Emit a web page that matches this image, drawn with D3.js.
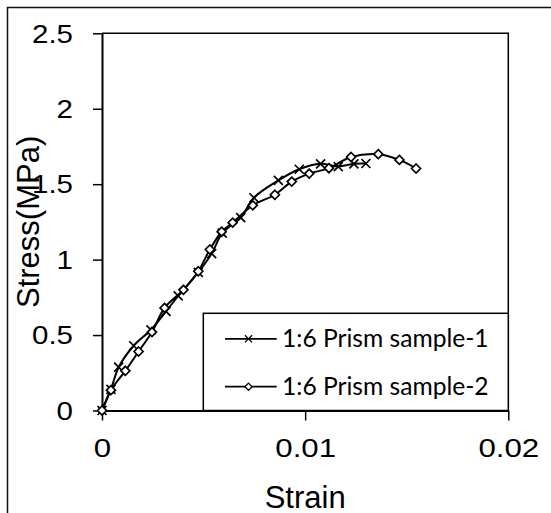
<!DOCTYPE html>
<html lang="en">
<head>
    <meta charset="UTF-8">
    <title>Stress-Strain</title>
    <script src="https://d3js.org/d3.v7.min.js"></script>
    <style>
        body { margin: 0; background: #fff; }
    </style>
</head>
<body>
    <svg id="chart" width="551" height="513"></svg>

    <script>
        // data
        const strain1 = [0, 0.00044, 0.00082, 0.00156, 0.00241, 0.00315, 0.00375, 0.00474, 0.0054, 0.00592, 0.00683, 0.00748, 0.00868, 0.00971, 0.01076, 0.01163, 0.0124, 0.01299];
        const stress1 = [0, 0.14, 0.287, 0.429, 0.535, 0.657, 0.76, 0.915, 1.04, 1.175, 1.278, 1.41, 1.525, 1.599, 1.635, 1.617, 1.635, 1.637];
        const strain2 = [0, 0.00044, 0.00115, 0.0018, 0.00246, 0.00308, 0.00401, 0.00474, 0.00531, 0.00589, 0.00643, 0.00742, 0.00851, 0.00934, 0.0102, 0.01117, 0.01226, 0.0136, 0.01464, 0.01546];
        const stress2 = [0, 0.135, 0.263, 0.391, 0.52, 0.68, 0.80, 0.923, 1.067, 1.185, 1.245, 1.36, 1.43, 1.517, 1.57, 1.606, 1.68, 1.699, 1.661, 1.604];
        const seriesNames = ["1:6 Prism sample-1", "1:6 Prism sample-2"];
        const xTicks = [0, 0.01, 0.02];
        const yTicks = [0, 0.5, 1, 1.5, 2, 2.5];

        const pL = 102, pR = 508.3, pT = 33.3, pB = 410.5;
        const svg = d3.select("#chart");

        // outer frame
        svg.append("rect")
           .attr("x", 7.5).attr("y", 7.5)
           .attr("width", 600).attr("height", 600)
           .attr("fill", "none").attr("stroke", "#111").attr("stroke-width", 1.5);

        const x = d3.scaleLinear().domain([0, 0.02]).range([pL, pR]);
        const y = d3.scaleLinear().domain([0, 2.5]).range([pB, pT]);

        // plot box (top + right)
        svg.append("path")
           .attr("d", `M${pL},${pT}H${pR}V${pB}`)
           .attr("fill", "none").attr("stroke", "#000").attr("stroke-width", 1.5);

        const xAxis = svg.append("g")
           .attr("transform", `translate(0,${pB})`)
           .call(d3.axisBottom(x).tickValues(xTicks).tickFormat(d3.format("")).tickSize(10).tickSizeOuter(0));
        const yAxis = svg.append("g")
           .attr("transform", `translate(${pL},0)`)
           .call(d3.axisLeft(y).tickValues(yTicks).tickFormat(d3.format("")).tickSize(9).tickSizeOuter(0));

        [xAxis, yAxis].forEach(g => {
            g.select(".domain").attr("stroke", "#000").attr("stroke-width", 2);
            g.selectAll(".tick line").attr("stroke", "#000").attr("stroke-width", 1.5);
            g.selectAll(".tick text")
             .attr("font-family", "Liberation Sans, Arial, sans-serif")
             .attr("font-size", 25).attr("fill", "#000");
        });
        // the original labels are drawn a little wide
        xAxis.selectAll(".tick text")
             .attr("x", 0).attr("y", 0).attr("dy", 0)
             .attr("transform", "translate(0,46) scale(1.25,1)");
        yAxis.selectAll(".tick text")
             .attr("x", 0).attr("dy", "0.35em")
             .attr("transform", "translate(-29,0) scale(1.18,1)");

        svg.append("text")
           .attr("x", (pL + pR) / 2).attr("y", 508)
           .attr("text-anchor", "middle")
           .attr("font-family", "Liberation Sans, Arial, sans-serif")
           .attr("font-size", 31).text("Strain");
        svg.append("text")
           .attr("transform", `translate(39,${(pT + pB) / 2}) rotate(-90)`)
           .attr("text-anchor", "middle")
           .attr("font-family", "Liberation Sans, Arial, sans-serif")
           .attr("font-size", 31).text("Stress(MPa)");

        const line = d3.line()
           .x(d => x(d[0])).y(d => y(d[1]))
           .curve(d3.curveCatmullRom.alpha(0.5));

        const data1 = strain1.map((s, i) => [s, stress1[i]]);
        const data2 = strain2.map((s, i) => [s, stress2[i]]);

        const crossPath = "M-4.5,-4.5L4.5,4.5M-4.5,4.5L4.5,-4.5";
        const diamondPath = "M0,-4.5L4.5,0L0,4.5L-4.5,0Z";

        function drawSeries(data, shape) {
            svg.append("path").datum(data)
               .attr("fill", "none").attr("stroke", "#000").attr("stroke-width", 2)
               .attr("d", line);
            svg.append("g").selectAll("path").data(data).join("path")
               .attr("transform", d => `translate(${x(d[0])},${y(d[1])})`)
               .attr("d", shape)
               .attr("fill", shape === diamondPath ? "#fff" : "none")
               .attr("stroke", "#000").attr("stroke-width", 1.7);
        }
        drawSeries(data1, crossPath);
        drawSeries(data2, diamondPath);

        // legend
        const lg = svg.append("g");
        lg.append("rect")
          .attr("x", 203.3).attr("y", 313.3)
          .attr("width", pR - 203.3).attr("height", pB - 313.3)
          .attr("fill", "#fff").attr("stroke", "#000").attr("stroke-width", 1.5);
        const rows = [338.8, 386.7];
        const shapes = [crossPath, diamondPath];
        seriesNames.forEach((name, i) => {
            lg.append("line")
              .attr("x1", 225).attr("x2", 276.7).attr("y1", rows[i]).attr("y2", rows[i])
              .attr("stroke", "#000").attr("stroke-width", 1.8);
            lg.append("path")
              .attr("transform", `translate(248.5,${rows[i]}) scale(0.8)`)
              .attr("d", shapes[i])
              .attr("fill", i === 1 ? "#fff" : "none")
              .attr("stroke", "#000").attr("stroke-width", 1.6);
            lg.append("text")
              .attr("x", 282).attr("y", rows[i]).attr("dy", "0.35em")
              .attr("font-family", "Lato, Carlito, sans-serif")
              .attr("font-size", 24.6).text(name);
        });
    </script>
</body>
</html>
